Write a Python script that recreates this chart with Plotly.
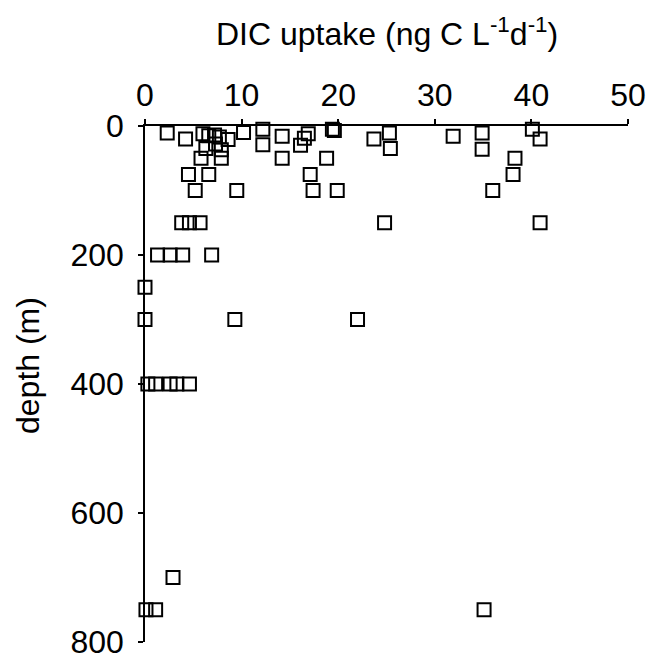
import plotly.graph_objects as go

uptake = [2.3, 4.2, 6.0, 6.6, 7.2, 7.7, 8.6, 10.2, 12.2, 14.2, 16.9, 16.5, 19.4, 19.6, 23.7, 25.3, 31.9, 34.9, 40.1, 40.9,
          6.3, 7.9, 7.3, 12.2, 16.1, 25.4, 34.9,
          5.8, 7.9, 14.2, 18.8, 38.3,
          4.5, 6.6, 17.1, 38.1,
          5.2, 9.5, 17.4, 19.9, 36.0,
          3.8, 4.6, 5.7, 24.8, 40.9,
          1.3, 2.6, 3.9, 6.9,
          0.0,
          0.0, 9.3, 22.0,
          0.3, 1.1, 2.6, 3.3, 4.6,
          2.9,
          0.1, 1.1, 35.1]
depth = [11, 20, 12, 15, 14, 17, 21, 10, 5, 16, 12, 19, 5, 7, 20, 11, 16, 11, 5, 20,
         35, 37, 28, 29, 30, 35, 36,
         50, 50, 50, 50, 50,
         75, 75, 75, 75,
         100, 100, 100, 100, 100,
         150, 150, 150, 150, 150,
         200, 200, 200, 200,
         250,
         300, 300, 300,
         400, 400, 400, 400, 400,
         700,
         750, 750, 750]

x_ticks = [0, 10, 20, 30, 40, 50]
y_ticks = [0, 200, 400, 600, 800]

FONT = "Liberation Sans, Arial, sans-serif"
FS_TICK = 32
FS_TITLE = 32

fig = go.Figure(go.Scatter(
    x=uptake, y=depth, mode="markers",
    marker=dict(symbol="square-open", size=13, color="black", line=dict(width=2, color="black")),
    cliponaxis=False,
))

fig.update_layout(
    template="none",
    width=650, height=650,
    margin=dict(l=137, r=30, t=118, b=16),
    paper_bgcolor="white", plot_bgcolor="white",
    showlegend=False,
    font=dict(family=FONT, size=FS_TICK, color="black"),
    xaxis=dict(
        side="top", range=[0, 50], tickvals=x_ticks, ticktext=[str(v) for v in x_ticks],
        showline=True, linecolor="black", linewidth=1.5,
        ticks="outside", ticklen=5, tickwidth=1.5, tickcolor="black",
        showgrid=False, zeroline=False, automargin=False, ticklabelstandoff=0,
        ticklabeloverflow="allow",
        tickfont=dict(family=FONT, size=FS_TICK, color="black"),
    ),
    yaxis=dict(
        range=[800, 0], tickvals=y_ticks, ticktext=[str(v) for v in y_ticks],
        showline=True, linecolor="black", linewidth=1.5,
        ticks="outside", ticklen=5, tickwidth=1.5, tickcolor="black",
        showgrid=False, zeroline=False, automargin=False, ticklabelstandoff=8,
        ticklabeloverflow="allow",
        tickfont=dict(family=FONT, size=FS_TICK, color="black"),
    ),
    annotations=[
        dict(text="DIC uptake (ng C L<sup>-1</sup>d<sup>-1</sup>)", xref="paper", yref="paper",
             x=0.5, y=1.0, yshift=94, xanchor="center", yanchor="middle", showarrow=False,
             font=dict(family=FONT, size=FS_TITLE, color="black")),
        dict(text="depth (m)", xref="paper", yref="paper", x=0, xshift=-117,
             y=0.5, yshift=18, xanchor="center", yanchor="middle", textangle=-90, showarrow=False,
             font=dict(family=FONT, size=FS_TITLE, color="black")),
    ],
)

fig.write_html("out.html")
